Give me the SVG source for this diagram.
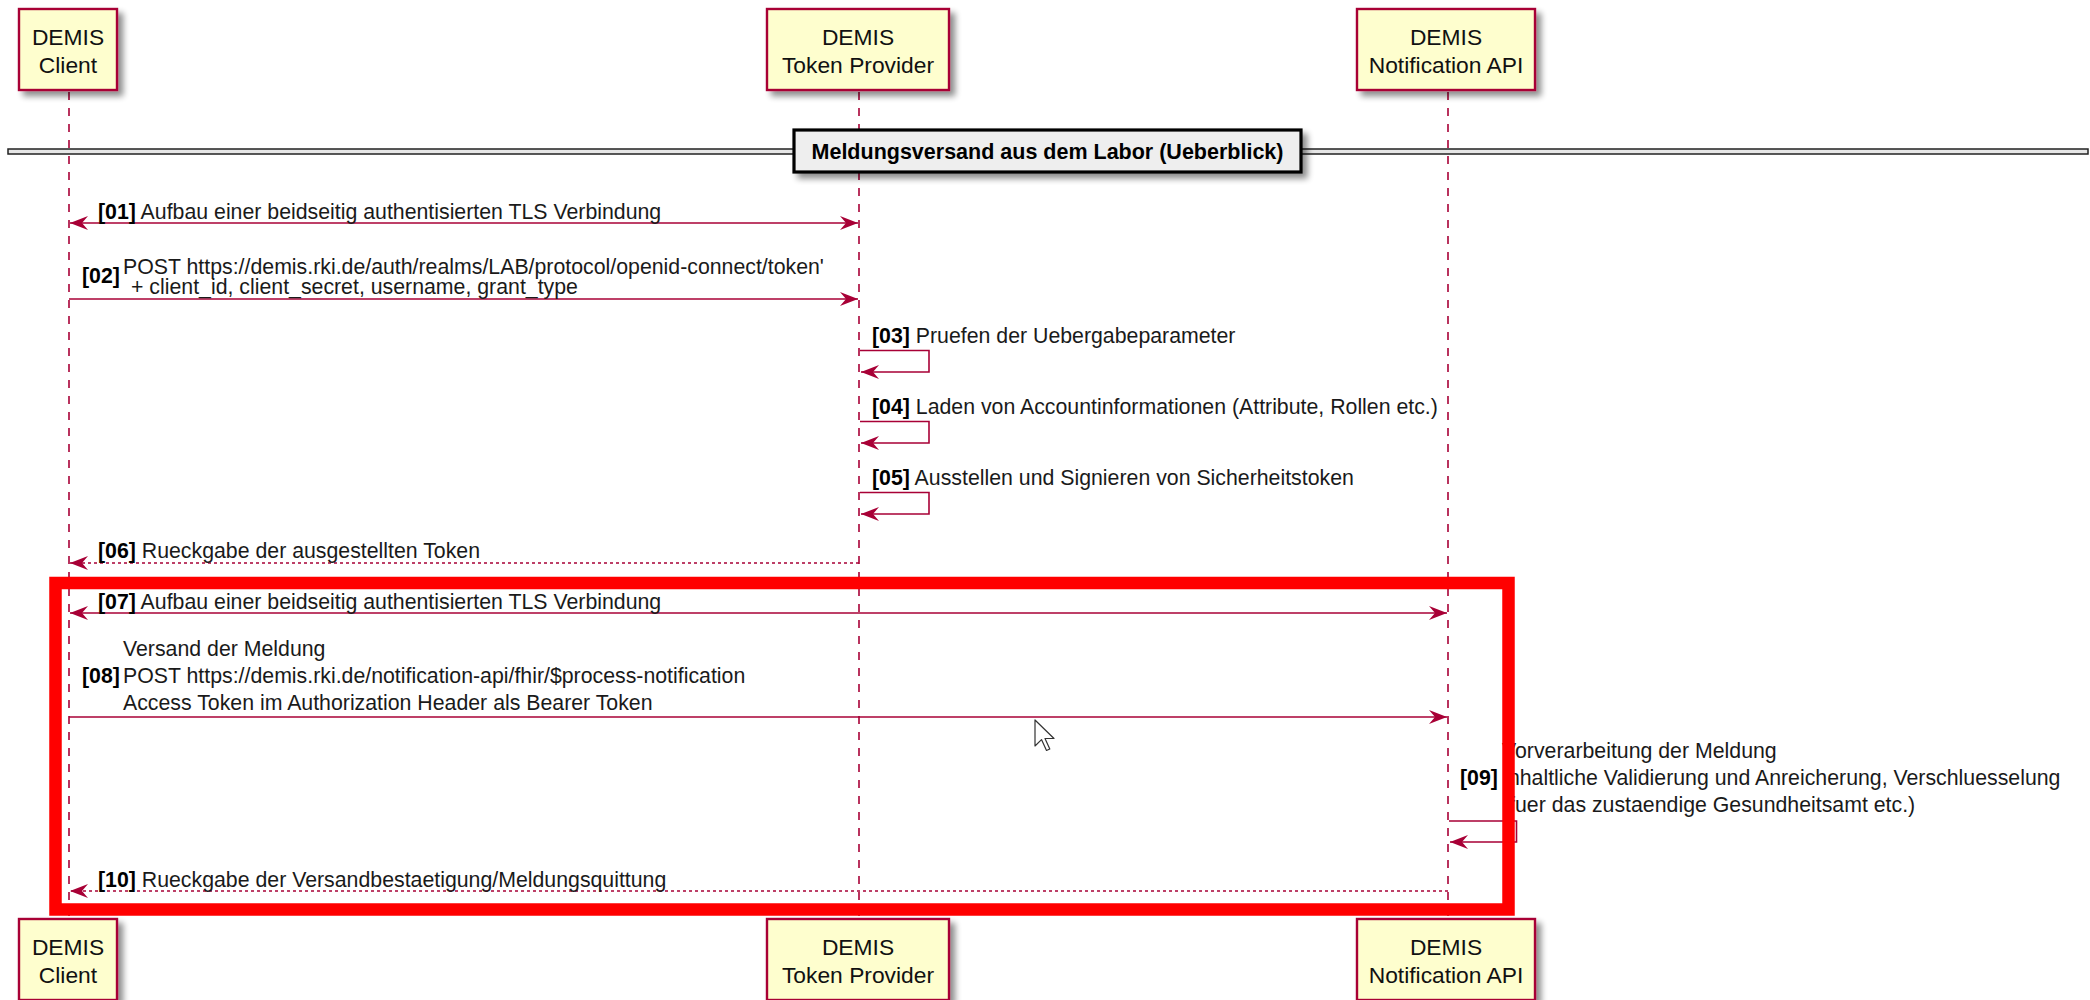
<svg xmlns="http://www.w3.org/2000/svg" width="2090" height="1000" viewBox="0 0 2090 1000">
<defs>
  <filter id="shadow" x="-20%" y="-20%" width="150%" height="150%">
    <feGaussianBlur in="SourceAlpha" stdDeviation="3"/>
    <feOffset dx="5" dy="5" result="b"/>
    <feComponentTransfer><feFuncA type="linear" slope="0.45"/></feComponentTransfer>
    <feMerge><feMergeNode/><feMergeNode in="SourceGraphic"/></feMerge>
  </filter>
  <marker id="ah" viewBox="0 0 18 14" refX="18" refY="7" markerWidth="18" markerHeight="14" markerUnits="userSpaceOnUse" orient="auto-start-reverse">
    <path d="M0,0 L18,7 L0,14 L6,7 Z" fill="#A80036"/>
  </marker>
</defs>
<style>
  .pbox { fill: #FEFECE; stroke: #A80036; stroke-width: 2.4; }
  .ptxt { font-family: "Liberation Sans", Arial, sans-serif; font-size: 22.8px; fill: #111; text-anchor: middle; }
  .life { stroke: #A80036; stroke-width: 1.6; stroke-dasharray: 8,8; fill: none; }
  .msg { stroke: #A80036; stroke-width: 1.6; fill: none; }
  .ret { stroke: #A80036; stroke-width: 1.6; stroke-dasharray: 3,3; fill: none; }
  .mtxt { font-family: "Liberation Sans", Arial, sans-serif; font-size: 21.3px; fill: #1a1a1a; }
  .num { font-weight: bold; fill: #000; }
  .divtxt { font-family: "Liberation Sans", Arial, sans-serif; font-size: 21.5px; font-weight: bold; fill: #000; text-anchor: middle; }
</style>
<rect width="2090" height="1000" fill="#FFFFFF"/>

<g id="lifelines">
  <line class="life" x1="69" y1="92" x2="69" y2="919"/>
  <line class="life" x1="859" y1="92" x2="859" y2="919"/>
  <line class="life" x1="1448" y1="92" x2="1448" y2="919"/>
</g>

<g id="divider">
  <rect x="8" y="149" width="2080" height="5" fill="#E6E6E6" stroke="#222" stroke-width="1.5"/>
  <rect x="794" y="130" width="507" height="42" fill="#EEEEEE" stroke="#000" stroke-width="3.2" filter="url(#shadow)"/>
  <text class="divtxt" x="1047.5" y="158.5">Meldungsversand aus dem Labor (Ueberblick)</text>
</g>

<g id="client">
  <rect class="pbox" x="19" y="9" width="98" height="81" filter="url(#shadow)"/>
  <text class="ptxt" x="68" y="44.5">DEMIS</text>
  <text class="ptxt" x="68" y="72.5">Client</text>
  <rect class="pbox" x="19" y="919" width="98" height="81" filter="url(#shadow)"/>
  <text class="ptxt" x="68" y="954.5">DEMIS</text>
  <text class="ptxt" x="68" y="982.5">Client</text>
</g>

<g id="token-provider">
  <rect class="pbox" x="767" y="9" width="182" height="81" filter="url(#shadow)"/>
  <text class="ptxt" x="858" y="44.5">DEMIS</text>
  <text class="ptxt" x="858" y="72.5">Token Provider</text>
  <rect class="pbox" x="767" y="919" width="182" height="81" filter="url(#shadow)"/>
  <text class="ptxt" x="858" y="954.5">DEMIS</text>
  <text class="ptxt" x="858" y="982.5">Token Provider</text>
</g>

<g id="notification-api">
  <rect class="pbox" x="1357" y="9" width="178" height="81" filter="url(#shadow)"/>
  <text class="ptxt" x="1446" y="44.5">DEMIS</text>
  <text class="ptxt" x="1446" y="72.5">Notification API</text>
  <rect class="pbox" x="1357" y="919" width="178" height="81" filter="url(#shadow)"/>
  <text class="ptxt" x="1446" y="954.5">DEMIS</text>
  <text class="ptxt" x="1446" y="982.5">Notification API</text>
</g>

<g id="connectors">
  <line class="msg" x1="70" y1="223" x2="858" y2="223" marker-start="url(#ah)" marker-end="url(#ah)"/>
  <line class="msg" x1="69" y1="299" x2="858" y2="299" marker-end="url(#ah)"/>
  <path class="msg" d="M860,350.5 H929 V372 H861" marker-end="url(#ah)"/>
  <path class="msg" d="M860,421.5 H929 V443 H861" marker-end="url(#ah)"/>
  <path class="msg" d="M860,492.5 H929 V514 H861" marker-end="url(#ah)"/>
  <line class="ret" x1="859" y1="563" x2="70" y2="563" marker-end="url(#ah)"/>
  <line class="msg" x1="70" y1="613" x2="1447" y2="613" marker-start="url(#ah)" marker-end="url(#ah)"/>
  <line class="msg" x1="69" y1="717" x2="1447" y2="717" marker-end="url(#ah)"/>
  <path class="msg" d="M1449,821 H1516.5 V842 H1450" marker-end="url(#ah)"/>
  <line class="ret" x1="1448" y1="891" x2="70" y2="891" marker-end="url(#ah)"/>
</g>

<g id="labels">
  <text class="mtxt" x="98" y="218.5"><tspan class="num">[01]</tspan> Aufbau einer beidseitig authentisierten TLS Verbindung</text>
  <text class="mtxt num" x="82" y="283">[02]</text>
  <text class="mtxt" x="123" y="273.5">POST https://demis.rki.de/auth/realms/LAB/protocol/openid-connect/token'</text>
  <text class="mtxt" x="131" y="293.5">+ client_id, client_secret, username, grant_type</text>
  <text class="mtxt" x="872" y="342.5"><tspan class="num">[03]</tspan> Pruefen der Uebergabeparameter</text>
  <text class="mtxt" x="872" y="413.5"><tspan class="num">[04]</tspan> Laden von Accountinformationen (Attribute, Rollen etc.)</text>
  <text class="mtxt" x="872" y="484.5"><tspan class="num">[05]</tspan> Ausstellen und Signieren von Sicherheitstoken</text>
  <text class="mtxt" x="98" y="558"><tspan class="num">[06]</tspan> Rueckgabe der ausgestellten Token</text>
  <text class="mtxt" x="98" y="608.5"><tspan class="num">[07]</tspan> Aufbau einer beidseitig authentisierten TLS Verbindung</text>
  <text class="mtxt num" x="82" y="683">[08]</text>
  <text class="mtxt" x="123" y="655.7">Versand der Meldung</text>
  <text class="mtxt" x="123" y="683">POST https://demis.rki.de/notification-api/fhir/$process-notification</text>
  <text class="mtxt" x="123" y="709.5">Access Token im Authorization Header als Bearer Token</text>
  <text class="mtxt num" x="1460" y="785">[09]</text>
  <text class="mtxt" x="1502" y="758">Vorverarbeitung der Meldung</text>
  <text class="mtxt" x="1502" y="785">Inhaltliche Validierung und Anreicherung, Verschluesselung</text>
  <text class="mtxt" x="1502" y="811.5">(fuer das zustaendige Gesundheitsamt etc.)</text>
  <text class="mtxt" x="98" y="886.5"><tspan class="num">[10]</tspan> Rueckgabe der Versandbestaetigung/Meldungsquittung</text>
</g>

<g id="highlight">
  <rect x="55.5" y="583" width="1453" height="326.5" fill="none" stroke="#FF0000" stroke-width="12.5"/>
</g>

<g id="cursor">
  <path d="M1035,720 L1035,746 L1041.5,739.6 L1046.5,750.5 L1049.8,749 L1045,738.5 L1054,738.5 Z" fill="#FFFFFF" stroke="#333333" stroke-width="1.2" stroke-linejoin="round"/>
</g>
</svg>
